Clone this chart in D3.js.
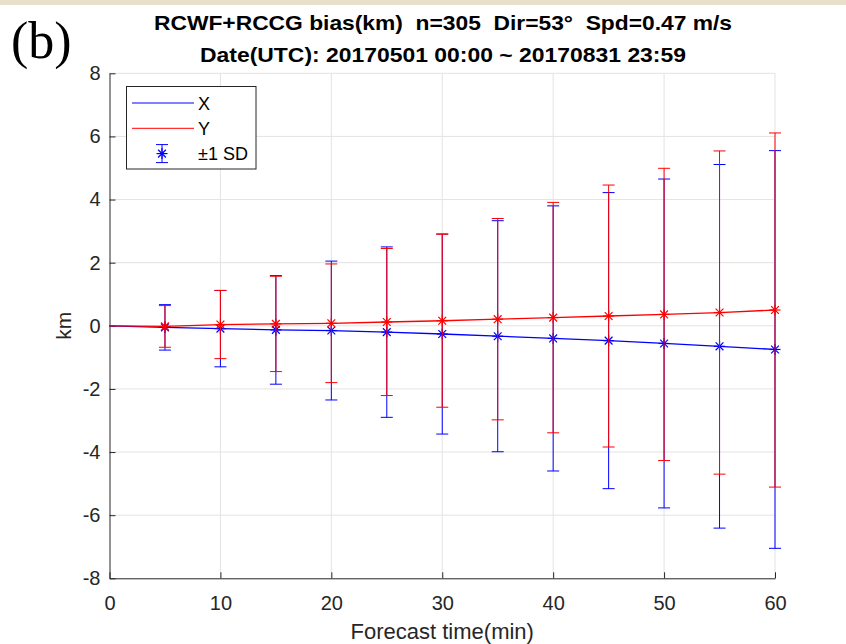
<!DOCTYPE html>
<html>
<head>
<meta charset="utf-8">
<script src="https://cdn.jsdelivr.net/npm/d3@7"></script>
<style>
    body { margin: 0; background: #fff; }
    svg { display: block; font-family: "Liberation Sans", Arial, sans-serif; }
    text { white-space: pre; }
</style>
</head>
<body>
<div id="chart"></div>
<script>
// Forecast lead times (min)
var times = [5, 10, 15, 20, 25, 30, 35, 40, 45, 50, 55, 60];
// X bias mean and standard deviation (km)
var xMean = [-0.05, -0.09, -0.13, -0.15, -0.20, -0.26, -0.33, -0.40, -0.47, -0.56, -0.65, -0.75];
var xSD = [0.72, 1.21, 1.72, 2.20, 2.70, 3.17, 3.66, 4.20, 4.69, 5.21, 5.76, 6.30];
// Y bias mean and standard deviation (km)
var yMean = [-0.02, 0.04, 0.06, 0.08, 0.12, 0.16, 0.21, 0.26, 0.31, 0.36, 0.42, 0.50];
var ySD = [0.66, 1.08, 1.51, 1.88, 2.33, 2.74, 3.19, 3.65, 4.15, 4.63, 5.12, 5.61];
// both lines start at the origin
var origin = {t: 0, m: 0};
var xTicks = [0, 10, 20, 30, 40, 50, 60];
var yTicks = [-8, -6, -4, -2, 0, 2, 4, 6, 8];
var legendNames = ["X", "Y", "\u00b11 SD"];
var titleLines = [
    "RCWF+RCCG bias(km)  n=305  Dir=53\u00b0  Spd=0.47 m/s",
    "Date(UTC): 20170501 00:00 ~ 20170831 23:59"
];

var W = 846, H = 644;
var margin = {left: 109.5, right: 775, top: 73.3, bottom: 578.3};
var axisColor = "#262626", gridColor = "#e3e3e3";
var titleWidths = [578, 486];

var svg = d3.select("#chart").append("svg")
    .attr("width", W)
    .attr("height", H);

// strip at the top of the source image
svg.append("rect")
    .attr("x", 0).attr("y", 0)
    .attr("width", W).attr("height", 5)
    .attr("fill", "#e8e0cb");

var x = d3.scaleLinear().domain([0, 60]).range([margin.left, margin.right]);
var y = d3.scaleLinear().domain([-8, 8]).range([margin.bottom, margin.top]);

//Grid
var grid = svg.append("g").attr("class", "grid");
grid.selectAll("line.gx")
    .data(xTicks.slice(1))
    .enter().append("line")
    .attr("x1", function(d) { return x(d); })
    .attr("x2", function(d) { return x(d); })
    .attr("y1", y(-8)).attr("y2", y(8))
    .attr("stroke", gridColor);
grid.selectAll("line.gy")
    .data(yTicks.slice(1))
    .enter().append("line")
    .attr("x1", x(0)).attr("x2", x(60))
    .attr("y1", function(d) { return y(d); })
    .attr("y2", function(d) { return y(d); })
    .attr("stroke", gridColor);

//Axes, ticks pointing inward like MATLAB, plain hyphen for minus
var plain = function(d) { return String(d); };
var xAxis = svg.append("g")
    .attr("transform", "translate(0," + y(-8) + ")")
    .call(d3.axisBottom(x).tickValues(xTicks).tickFormat(plain)
        .tickSizeInner(-6).tickSizeOuter(0).tickPadding(18));
var yAxis = svg.append("g")
    .attr("transform", "translate(" + x(0) + ",0)")
    .call(d3.axisLeft(y).tickValues(yTicks).tickFormat(plain)
        .tickSizeInner(-6).tickSizeOuter(0).tickPadding(9));
[xAxis, yAxis].forEach(function(a) {
    a.select(".domain").attr("stroke", axisColor);
    a.selectAll(".tick line").attr("stroke", axisColor);
    a.selectAll(".tick text")
        .attr("fill", axisColor)
        .attr("font-size", "20px")
        .attr("font-family", "Liberation Sans, Arial, sans-serif");
});

//Axis labels
svg.append("text")
    .attr("x", (margin.left + margin.right) / 2)
    .attr("y", 639)
    .attr("text-anchor", "middle")
    .attr("font-size", "22px")
    .attr("fill", axisColor)
    .text("Forecast time(min)");
svg.append("text")
    .attr("transform", "translate(71," + y(0) + ") rotate(-90)")
    .attr("text-anchor", "middle")
    .attr("font-size", "21px")
    .attr("fill", axisColor)
    .text("km");

//Title
svg.selectAll("text.title")
    .data(titleLines)
    .enter().append("text")
    .attr("class", "title")
    .attr("x", 443)
    .attr("y", function(d, i) { return 30 + i * 32; })
    .attr("text-anchor", "middle")
    .attr("font-size", "21px")
    .attr("font-weight", "bold")
    .attr("fill", "#000")
    .attr("textLength", function(d, i) { return titleWidths[i]; })
    .attr("lengthAdjust", "spacingAndGlyphs")
    .text(function(d) { return d; });

svg.append("text")
    .attr("x", 11)
    .attr("y", 58)
    .attr("font-family", "Liberation Serif, Times New Roman, serif")
    .attr("font-size", "52px")
    .attr("fill", "#000")
    .text("(b)");

var line = d3.line()
    .x(function(d) { return x(d.t); })
    .y(function(d) { return y(d.m); });

function asterisk(g, r, color) {
    var s = r * Math.SQRT1_2;
    [[-r, 0, r, 0], [0, -r, 0, r], [-s, -s, s, s], [-s, s, s, -s]].forEach(function(p) {
        g.append("line")
            .attr("x1", p[0]).attr("y1", p[1])
            .attr("x2", p[2]).attr("y2", p[3])
            .attr("stroke", color)
            .attr("stroke-width", 1.2);
    });
}

function drawSeries(mean, sd, color) {
    var pts = times.map(function(t, i) {
        return {t: t, m: mean[i], sd: sd[i]};
    });
    var g = svg.append("g");

    g.append("path")
        .datum([origin].concat(pts))
        .attr("d", line)
        .attr("fill", "none")
        .attr("stroke", color)
        .attr("stroke-width", 1.3);

    var bars = g.selectAll("g.bar")
        .data(pts)
        .enter().append("g")
        .attr("class", "bar");
    bars.append("line")
        .attr("x1", function(d) { return x(d.t); })
        .attr("x2", function(d) { return x(d.t); })
        .attr("y1", function(d) { return y(d.m - d.sd); })
        .attr("y2", function(d) { return y(d.m + d.sd); })
        .attr("stroke", color);
    [-1, 1].forEach(function(k) {
        bars.append("line")
            .attr("x1", function(d) { return x(d.t) - 6; })
            .attr("x2", function(d) { return x(d.t) + 6; })
            .attr("y1", function(d) { return y(d.m + k * d.sd); })
            .attr("y2", function(d) { return y(d.m + k * d.sd); })
            .attr("stroke", color);
    });
    bars.each(function(d) {
        var m = d3.select(this).append("g")
            .attr("transform", "translate(" + x(d.t) + "," + y(d.m) + ")");
        asterisk(m, 5.5, color);
    });
}

drawSeries(xMean, xSD, "#0000ff");
drawSeries(yMean, ySD, "#ff0000");

//Legend
var legend = svg.append("g").attr("class", "legend");
legend.append("rect")
    .attr("x", 126.5).attr("y", 86.5)
    .attr("width", 129.5).attr("height", 82.5)
    .attr("fill", "#fff")
    .attr("stroke", axisColor);
var legendColors = ["#0000ff", "#ff0000", "#0000ff"];
legendNames.forEach(function(name, i) {
    var ly = 103 + i * 25.3;
    if (i < 2) {
        legend.append("line")
            .attr("x1", 132).attr("x2", 194)
            .attr("y1", ly).attr("y2", ly)
            .attr("stroke", legendColors[i]);
    } else {
        var e = legend.append("g").attr("transform", "translate(162," + ly + ")");
        e.append("line").attr("x1", 0).attr("x2", 0).attr("y1", -9).attr("y2", 9).attr("stroke", legendColors[i]);
        e.append("line").attr("x1", -6).attr("x2", 6).attr("y1", -9).attr("y2", -9).attr("stroke", legendColors[i]);
        e.append("line").attr("x1", -6).attr("x2", 6).attr("y1", 9).attr("y2", 9).attr("stroke", legendColors[i]);
        asterisk(e, 5.5, legendColors[i]);
    }
    legend.append("text")
        .attr("x", 198)
        .attr("y", ly + 6.5)
        .attr("font-size", "18px")
        .attr("fill", "#000")
        .text(name);
});
</script>
</body>
</html>
